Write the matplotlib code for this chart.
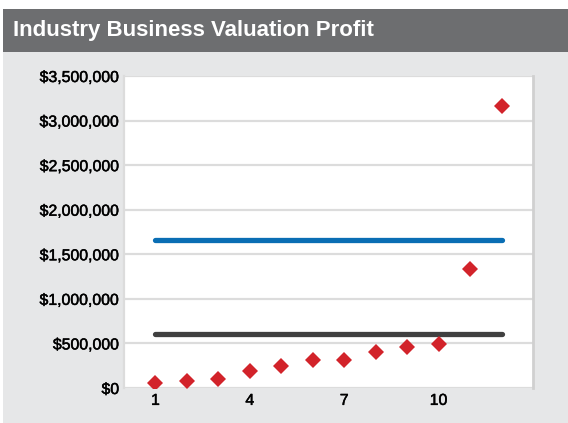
import matplotlib
matplotlib.use("Agg")
import matplotlib.pyplot as plt
import matplotlib.patheffects as pe
from matplotlib.patches import Rectangle
from matplotlib.ticker import FuncFormatter

plt.rcParams['font.family'] = ['Liberation Sans', 'DejaVu Sans']

title = "Industry Business Valuation Profit"
periods = list(range(1, 13))
profit = [55000, 75000, 105000, 195000, 245000, 315000, 315000, 405000, 460000, 495000, 1340000, 3165000]
blue_level = 1660000
dark_level = 605000
y_ticks = [0, 500000, 1000000, 1500000, 2000000, 2500000, 3000000, 3500000]
x_ticks = [1, 4, 7, 10]

W, H = 568, 423
fig = plt.figure(figsize=(W / 100, H / 100), dpi=100)
fig.patch.set_facecolor('white')

# background panel and title bar
fig.add_artist(Rectangle((3 / W, 0), 1 - 3 / W, (H - 52) / H, transform=fig.transFigure,
                         facecolor='#e6e7e8', edgecolor='none', zorder=-10))
fig.add_artist(Rectangle((3 / W, (H - 52) / H), 1 - 3 / W, 43 / H, transform=fig.transFigure,
                         facecolor='#6d6e70', edgecolor='none', zorder=-10))
fig.text(13 / W, (H - 30.5) / H, title, color='white', fontsize=16, fontweight='bold',
         va='center', ha='left')

ax = fig.add_axes([124 / W, 35 / H, 409 / W, 312 / H])
ax.set_zorder(1)
ax.set_facecolor('white')

ax.plot([periods[0], periods[-1]], [blue_level, blue_level], color='#0a6eb4', lw=3.8,
        solid_capstyle='round', zorder=3)
ax.plot([periods[0], periods[-1]], [dark_level, dark_level], color='#404040', lw=3.8,
        solid_capstyle='round', zorder=3)
ax.plot(periods, profit, linestyle='none', marker='D', markersize=7.8, color='#d2232a',
        markeredgewidth=0, zorder=4)

ax.set_xlim(0, 13)
ax.set_ylim(0, 3500000)
ax.set_yticks(y_ticks)
ax.set_xticks(x_ticks)
ax.yaxis.set_major_formatter(FuncFormatter(lambda v, p: "${:,.0f}".format(v)))
ax.grid(axis='y', color='#dcdcdc', lw=1.6)
ax.set_axisbelow(True)
ax.tick_params(axis='both', length=0, labelsize=11.4, labelcolor='#000000')
for lbl in ax.get_yticklabels() + ax.get_xticklabels():
    lbl.set_path_effects([pe.withStroke(linewidth=0.35, foreground='#000000')])
ax.tick_params(axis='y', pad=3.5)
ax.tick_params(axis='x', pad=3.5)
for s in ['top', 'bottom']:
    ax.spines[s].set_visible(False)
ax.spines['left'].set_color('#dcdcdc')
ax.spines['left'].set_linewidth(1.6)
ax.spines['right'].set_color('#d0d0d0')
ax.spines['right'].set_linewidth(2)

fig.savefig('out.png', dpi=100)
